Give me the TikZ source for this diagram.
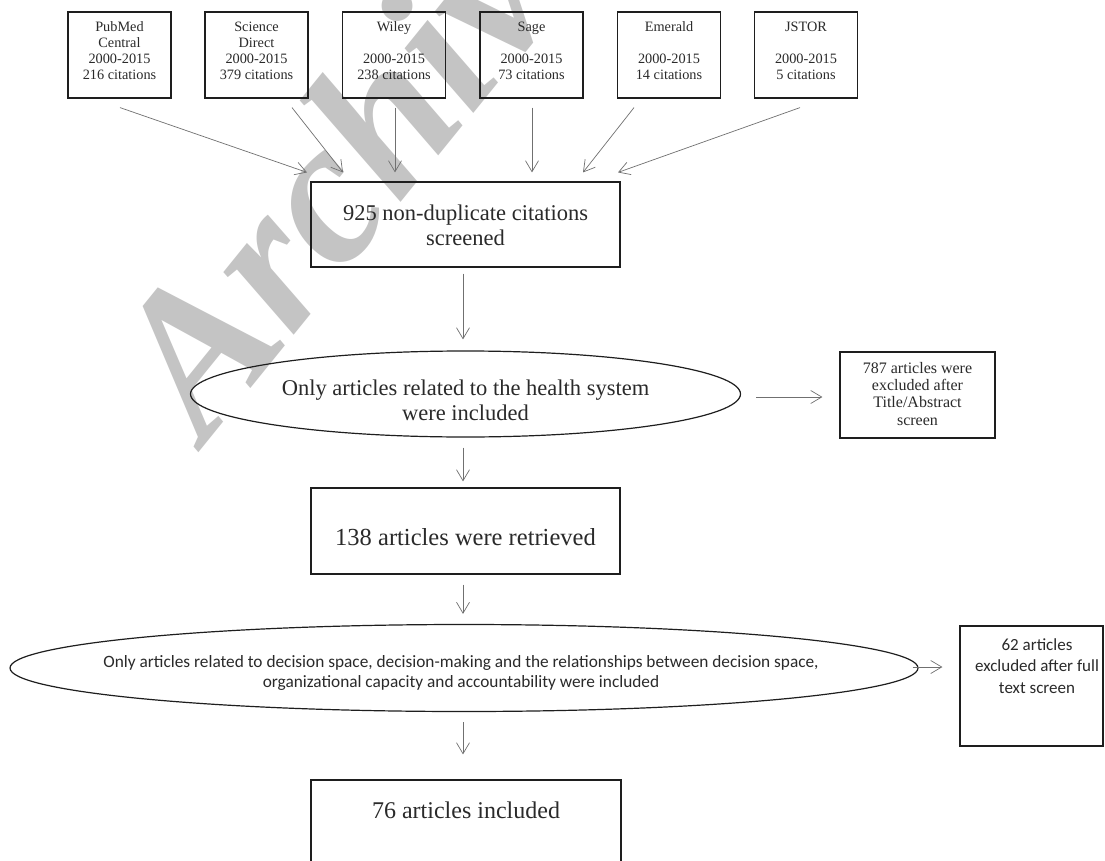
\documentclass[tikz,border=0pt]{standalone}
\usepackage{fontspec}
\setmainfont{Liberation Serif}
\newfontfamily\cali{Carlito}
\usetikzlibrary{arrows.meta,shapes.geometric,calc}
\definecolor{linegray}{HTML}{707070}
\definecolor{boxblack}{HTML}{1E1E1E}
\definecolor{txt}{HTML}{2A2A2A}
\definecolor{wmgray}{HTML}{C4C4C4}
\begin{document}
\begin{tikzpicture}[x=1pt,y=-1pt,
  conn/.style={draw=linegray,line width=0.7pt,-{Straight Barb[length=11pt,width=13pt,line width=0.7pt]}},
  frame/.style={draw=boxblack,line width=1.2pt,inner sep=0pt,rectangle},
  oval/.style={draw=boxblack,line width=1.2pt,inner sep=0pt,ellipse},
  smallt/.style={font=\fontsize{14.3}{16}\selectfont,align=center,inner sep=0pt,text=txt,anchor=north},
  midt/.style={font=\fontsize{16}{17.3}\selectfont,align=center,inner sep=0pt,text=txt,anchor=north},
  bigt/.style={font=\fontsize{22.5}{24.5}\selectfont,align=center,inner sep=0pt,text=txt,anchor=north},
  calt/.style={font=\cali\fontsize{17.3}{20.5}\selectfont,align=center,inner sep=0pt,text=txt,anchor=north},
  calbt/.style={font=\cali\fontsize{17}{21.5}\selectfont,align=center,inner sep=0pt,text=txt,anchor=north},
  wmark/.style={font=\bfseries\itshape\fontsize{205}{205}\selectfont,text=wmgray,rotate=51,anchor=base west,inner sep=0pt}
]
\useasboundingbox (0,0) rectangle (1105,861);
\fill[white] (0,0) rectangle (1105,861);
\clip (0,0) rectangle (1105,861);

% watermark
\node[wmark] (wm) at (205,445) {Archive};

% source boxes
\node[frame,minimum width=103,minimum height=86] (pub) at (119.5,55) {};
\node[frame,minimum width=103,minimum height=86] (sd)  at (256.5,55) {};
\node[frame,minimum width=103,minimum height=86] (wil) at (394,55) {};
\node[frame,minimum width=103,minimum height=86] (sag) at (531.5,55) {};
\node[frame,minimum width=103,minimum height=86] (eme) at (669,55) {};
\node[frame,minimum width=103,minimum height=86] (jst) at (806,55) {};

\node[smallt] (pub-t) at (119.5,20.3) {\strut PubMed\\Central\\2000-2015\\216 citations};
\node[smallt] (sd-t)  at (256.5,20.3) {\strut Science\\Direct\\2000-2015\\379 citations};
\node[smallt] (wil-t) at (394,20.3)   {\strut Wiley\\\strut\\2000-2015\\238 citations};
\node[smallt] (sag-t) at (531.5,20.3) {\strut Sage\\\strut\\2000-2015\\73 citations};
\node[smallt] (eme-t) at (669,20.3)   {\strut Emerald\\\strut\\2000-2015\\14 citations};
\node[smallt] (jst-t) at (806,20.3)   {\strut JSTOR\\\strut\\2000-2015\\5 citations};

% main flow
\node[frame,minimum width=309,minimum height=85] (box925) at (465.5,224.5) {};
\node[bigt] (box925-t) at (465.5,203.35) {\strut 925 non-duplicate citations\\screened};

\node[oval,minimum width=550,minimum height=86] (ell1) at (465.5,394) {};
\node[bigt] (ell1-t) at (465.5,378.35) {\strut Only articles related to the health system\\were included};

\node[frame,minimum width=155,minimum height=86] (box787) at (917.5,395) {};
\node[midt] (box787-t) at (917.5,360.9) {\strut 787 articles were\\excluded after\\Title/Abstract\\screen};

\node[frame,minimum width=309,minimum height=86] (box138) at (465.5,531) {};
\node[bigt,font=\fontsize{24.5}{26}\selectfont] (box138-t) at (465.5,527.3) {\strut 138 articles were retrieved};

\node[oval,minimum width=908,minimum height=87] (ell2) at (464,668) {};
\node[calt] (ell2-t) at (461,652.65) {\strut Only articles related to decision space, decision-making and the relationships between decision space,\\organizational capacity and accountability were included};

\node[frame,minimum width=143,minimum height=120] (box62) at (1031.5,686) {};
\node[calbt] (box62-t) at (1037,634.95) {\strut 62 articles\\excluded after full\\text screen};

\node[frame,minimum width=310,minimum height=120] (box76) at (466,840) {};
\node[bigt,font=\fontsize{24}{26}\selectfont] (box76-t) at (466,799.8) {\strut 76 articles included};

% connectors
\draw[conn] ($(pub.south)+(0.5,9)$) -- ($(box925.north)+(-158.5,-9)$);
\draw[conn] ($(sd.south)+(35.5,9)$) -- ($(box925.north)+(-122.5,-9)$);
\draw[conn] ($(wil.south)+(1,9)$) -- ($(box925.north)+(-70.5,-9)$);
\draw[conn] ($(sag.south)+(0.5,9)$) -- ($(box925.north)+(66.5,-9)$);
\draw[conn] ($(eme.south)+(-35,9)$) -- ($(box925.north)+(117.5,-9)$);
\draw[conn] ($(jst.south)+(-6,9)$) -- ($(box925.north)+(152.5,-9)$);

\draw[conn] ($(box925.south)+(-2.5,6)$) -- ($(ell1.north)+(-2.5,-11)$);
\draw[conn] ($(ell1.south)+(-2.5,10)$) -- ($(box138.north)+(-2.5,-6)$);
\draw[conn] ($(ell1.east)+(15,3)$) -- ($(box787.west)+(-17,2)$);
\draw[conn] ($(box138.south)+(-2.5,10)$) -- ($(ell2.north)+(-1,-10)$);
\draw[conn] ($(ell2.south)+(-1,10)$) -- ($(box76.north)+(-3,-25)$);
\draw[conn] ($(ell2.east)+(-6,-1)$) -- ($(box62.west)+(-17,-19)$);
\end{tikzpicture}
\end{document}
